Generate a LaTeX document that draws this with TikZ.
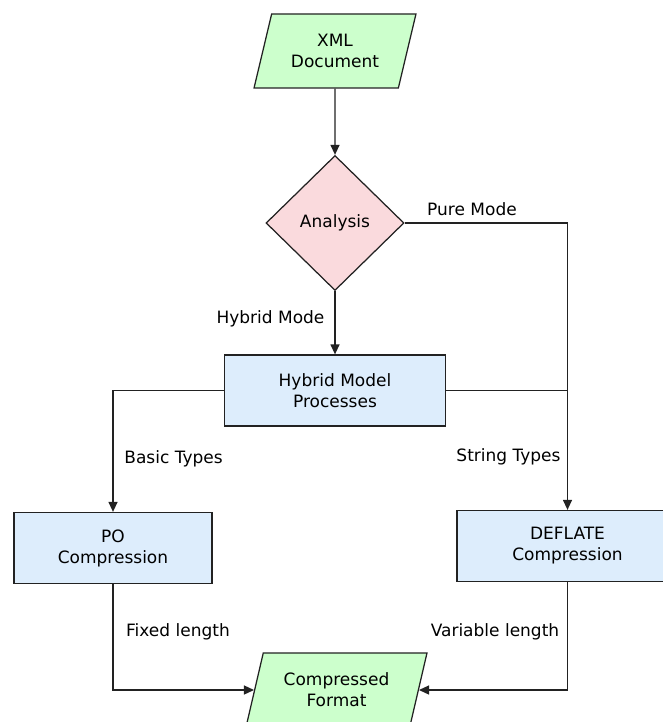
\documentclass[tikz,border=0pt]{standalone}
\usepackage{fontspec}
\setmainfont{DejaVu Sans}
\usetikzlibrary{shapes.geometric,arrows.meta}
\definecolor{iogreen}{RGB}{204,255,204}
\definecolor{decpink}{RGB}{250,218,221}
\definecolor{procblue}{RGB}{221,237,252}
\definecolor{linegray}{RGB}{34,34,34}
\tikzset{
  every node/.style={font=\fontsize{17}{21}\selectfont, text=black},
  iobox/.style={trapezium, trapezium left angle=70, trapezium right angle=110,
    trapezium stretches=true, draw=linegray, line width=1.25pt, fill=iogreen,
    align=center, inner sep=0pt},
  decbox/.style={diamond, draw=linegray, line width=1.25pt, fill=decpink,
    minimum width=138pt, minimum height=135pt, inner sep=0pt},
  procbox/.style={rectangle, draw=linegray, line width=1.25pt, fill=procblue,
    align=center, minimum height=71pt, inner sep=0pt},
  conn/.style={draw=linegray, line width=1.25pt},
  arr/.style={conn, -{Triangle[length=10pt,width=9pt]}},
  lbl/.style={inner sep=0pt}
}
\begin{document}
\begin{tikzpicture}[x=1pt,y=-1pt]
\useasboundingbox (0,0) rectangle (662,722);
\node[iobox, minimum width=162pt, minimum height=74pt] (xml) at (335,51) {XML\\Document};
\node[decbox] (ana) at (335,223) {Analysis};
\node[procbox, minimum width=221pt] (hyb) at (335,390.5) {Hybrid Model\\Processes};
\node[procbox, minimum width=198pt] (po) at (113,548) {PO\\Compression};
\node[procbox, minimum width=221pt] (def) at (567.5,546) {DEFLATE\\Compression};
\node[iobox, minimum width=181pt, minimum height=74pt] (cf) at (336.5,690) {Compressed\\Format};

\coordinate (join) at (hyb.east -| def.north);

\draw[arr] (xml.south) -- (ana.north);
\draw[arr] (ana.south) -- (hyb.north);
\draw[arr] (ana.east) -| (def.north);
\draw[conn] (hyb.east) -- (join);
\draw[arr] (hyb.west) -| (po.north);
\draw[arr] (po.south) |- (cf.left side);
\draw[arr] (def.south) |- (cf.right side);

\node[lbl] (lpure) at (472,209) {Pure Mode};
\node[lbl] (lhyb) at (270.5,319) {Hybrid Mode};
\node[lbl] (lbasic) at (173.5,459) {Basic Types};
\node[lbl] (lstring) at (508.5,457) {String Types};
\node[lbl] (lfixed) at (178,632) {Fixed length};
\node[lbl] (lvar) at (495,632) {Variable length};
\end{tikzpicture}
\end{document}
